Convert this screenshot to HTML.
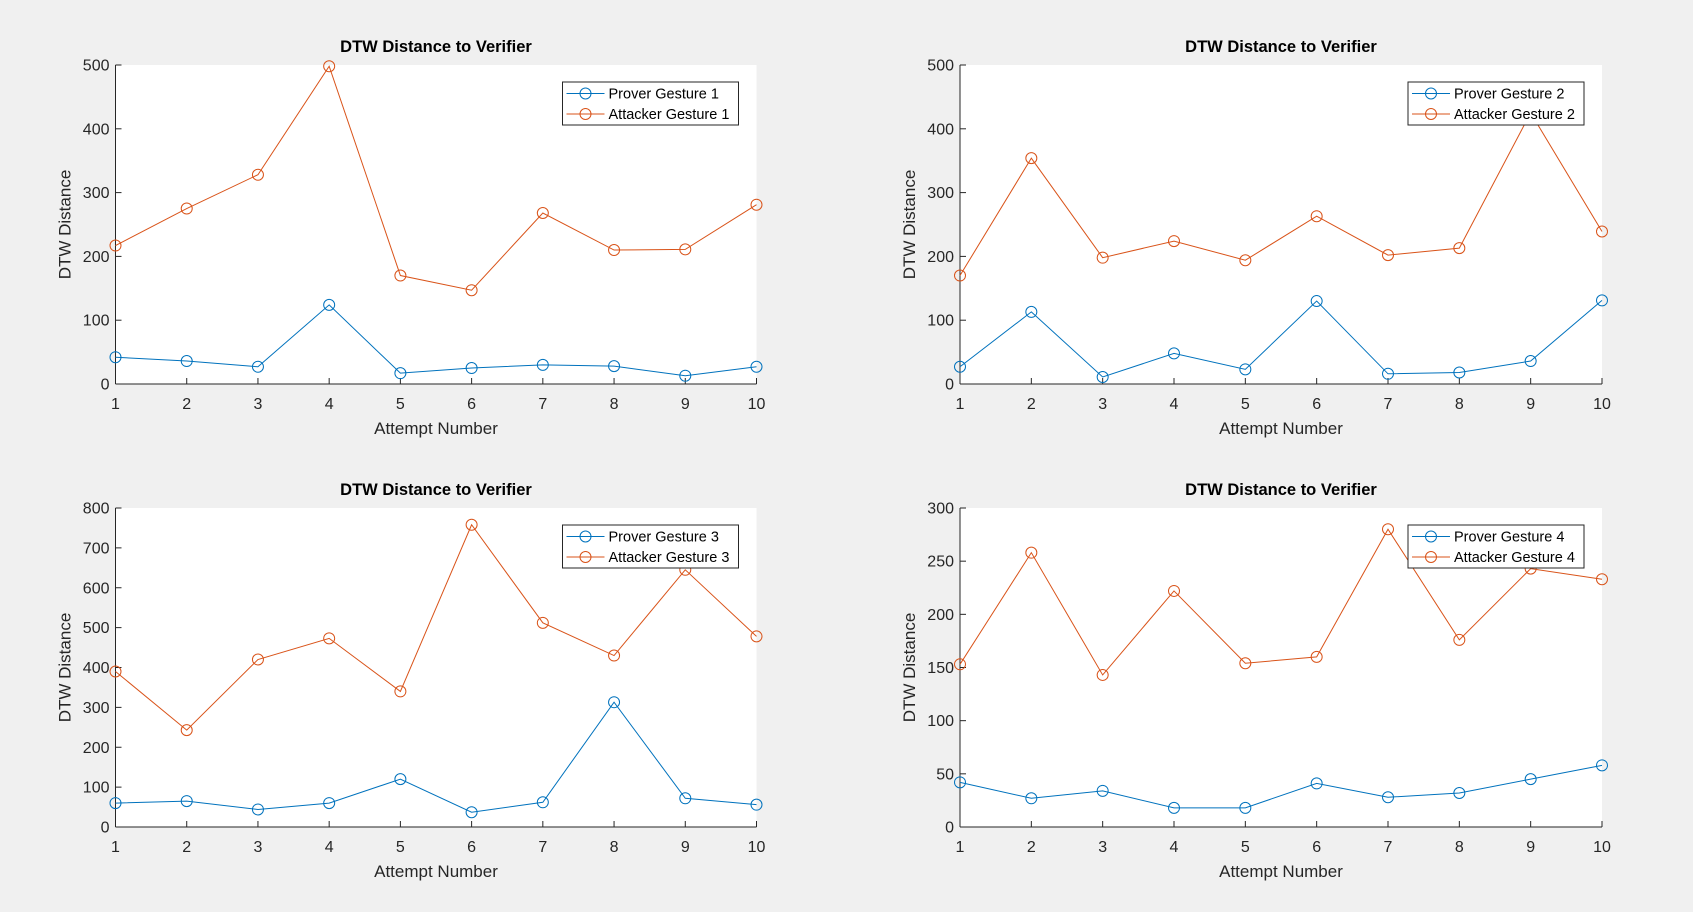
<!DOCTYPE html>
<html><head><meta charset="utf-8"><style>
html,body{margin:0;padding:0;background:#f0f0f0;}
svg{display:block;font-family:"Liberation Sans",Arial,sans-serif;}
</style></head><body>
<svg id="fig" width="1693" height="912" xmlns="http://www.w3.org/2000/svg"></svg>
<script>
const attempts=[1,2,3,4,5,6,7,8,9,10];
const prover1=[42,36,27,124,17,25,30,28,13,27];
const attacker1=[217,275,328,498,170,147,268,210,211,281];
const prover2=[27,113,11,48,23,130,16,18,36,131];
const attacker2=[170,354,198,224,194,263,202,213,425,239];
const prover3=[60,65,44,60,120,37,62,313,72,56];
const attacker3=[390,243,420,473,340,758,512,430,645,478];
const prover4=[42,27,34,18,18,41,28,32,45,58];
const attacker4=[153,258,143,222,154,160,280,176,243,233];
const yTicks1=[0,100,200,300,400,500];
const yTicks2=[0,100,200,300,400,500];
const yTicks3=[0,100,200,300,400,500,600,700,800];
const yTicks4=[0,50,100,150,200,250,300];
const legendNames=[["Prover Gesture 1","Attacker Gesture 1"],["Prover Gesture 2","Attacker Gesture 2"],["Prover Gesture 3","Attacker Gesture 3"],["Prover Gesture 4","Attacker Gesture 4"]];

const NS="http://www.w3.org/2000/svg";
const fig=document.getElementById('fig');
function mk(tag,attrs,parent,text){const e=document.createElementNS(NS,tag);for(const k in attrs)e.setAttribute(k,attrs[k]);if(text!==undefined)e.textContent=text;parent.appendChild(e);return e;}
const BLUE="#0072BD",RED="#D95319";
const panels=[
 {L:115.5,T:65,R:756.5,B:384,p:prover1,a:attacker1,yt:yTicks1,n:0},
 {L:960,T:65,R:1602,B:384,p:prover2,a:attacker2,yt:yTicks2,n:1},
 {L:115.5,T:508,R:756.5,B:827,p:prover3,a:attacker3,yt:yTicks3,n:2},
 {L:960,T:508,R:1602,B:827,p:prover4,a:attacker4,yt:yTicks4,n:3}];
panels.forEach((P,i)=>{
 const g=mk('g',{},fig);
 
 
 const ymax=P.yt[P.yt.length-1];
 const xs=v=>P.L+(v-1)/9*(P.R-P.L);
 const ys=v=>P.B-v/ymax*(P.B-P.T);
 const bg=mk('rect',{x:P.L,y:P.T,width:P.R-P.L,height:P.B-P.T,fill:'#fff'},g);
 
 
 const t=mk('text',{x:(P.L+P.R)/2,y:P.T-13,'text-anchor':'middle','font-size':'16.5','font-weight':'bold',fill:'#000'},g,'DTW Distance to Verifier');
 
 
 P.yt.forEach(v=>{
  mk('line',{x1:P.L,x2:P.L+6,y1:ys(v),y2:ys(v),stroke:'#262626','stroke-width':1},g);
  const tl=mk('text',{x:P.L-6,y:ys(v)+5.5,'text-anchor':'end','font-size':'16',fill:'#262626'},g,String(v));
  
  
 });
 attempts.forEach(v=>{
  mk('line',{x1:xs(v),x2:xs(v),y1:P.B,y2:P.B-6,stroke:'#262626','stroke-width':1},g);
  const tl=mk('text',{x:xs(v),y:P.B+25,'text-anchor':'middle','font-size':'16',fill:'#262626'},g,String(v));
  
  
 });
 mk('line',{x1:P.L,x2:P.L,y1:P.T,y2:P.B,stroke:'#262626','stroke-width':1},g);
 mk('line',{x1:P.L,x2:P.R,y1:P.B,y2:P.B,stroke:'#262626','stroke-width':1},g);
 const xl=mk('text',{x:(P.L+P.R)/2,y:P.B+50,'text-anchor':'middle','font-size':'17',fill:'#262626'},g,'Attempt Number');
 
 
 const cy=(P.T+P.B)/2;
 const yl=mk('text',{x:P.L-45,y:cy,'text-anchor':'middle','font-size':'17',fill:'#262626',transform:`rotate(-90 ${P.L-45} ${cy})`},g,'DTW Distance');
 
 
 [[P.p,BLUE,'prover'],[P.a,RED,'attacker']].forEach(([arr,col,nm])=>{
  const pl=mk('polyline',{points:arr.map((v,k)=>xs(attempts[k])+','+ys(v)).join(' '),fill:'none',stroke:col,'stroke-width':1},g);
  
  
  arr.forEach((v,k)=>{
   const c=mk('circle',{cx:xs(attempts[k]),cy:ys(v),r:5.5,fill:'none',stroke:col,'stroke-width':1},g);
   
   
  });
 });
 const lx=P.R-194,ly=P.T+17,lw=176,lh=43;
 const lg=mk('g',{},g);
 
 
 mk('rect',{x:lx,y:ly,width:lw,height:lh,fill:'#fff',stroke:'#262626','stroke-width':1},lg);
 [[BLUE,legendNames[P.n][0]],[RED,legendNames[P.n][1]]].forEach(([col,txt],j)=>{
  const yy=ly+11.5+j*20.5;
  mk('line',{x1:lx+4,x2:lx+42,y1:yy,y2:yy,stroke:col,'stroke-width':1},lg);
  mk('circle',{cx:lx+23,cy:yy,r:5.5,fill:'none',stroke:col,'stroke-width':1},lg);
  const lt=mk('text',{x:lx+46,y:yy+5,'font-size':'14.5',fill:'#000'},lg,txt);
  
  
 });
});
</script>
</body></html>
